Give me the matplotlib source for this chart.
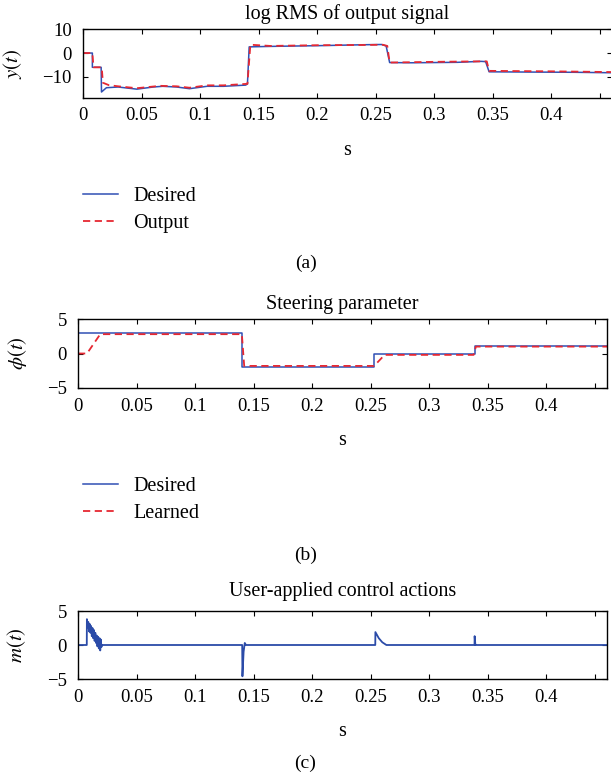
import matplotlib
matplotlib.use('Agg')
import matplotlib.pyplot as plt
from matplotlib.lines import Line2D

plt.rcParams['font.family'] = ['Liberation Serif', 'DejaVu Serif']
plt.rcParams['mathtext.fontset'] = 'stix'
plt.rcParams['axes.unicode_minus'] = True

# ---- panel (a): log RMS of output signal ----
t_des_a = [0, 0.008, 0.008, 0.0155, 0.0158, 0.020, 0.030, 0.046, 0.060, 0.068,
           0.080, 0.091, 0.100, 0.106, 0.120, 0.139, 0.1405, 0.142, 0.160, 0.200,
           0.240, 0.255, 0.259, 0.262, 0.280, 0.320, 0.340, 0.344, 0.347, 0.380,
           0.420, 0.452]
y_des_a = [0, 0, -6, -6, -16.4, -14.6, -14.3, -15.2, -14.3, -14.0,
           -14.3, -15.0, -14.4, -14.0, -14.0, -13.5, -13.0, 2.6, 2.8, 3.1,
           3.5, 3.6, 3.0, -4.0, -4.1, -3.9, -3.5, -3.6, -7.9, -8.0,
           -8.1, -8.3]
t_out_a = [0, 0.008, 0.009, 0.016, 0.017, 0.022, 0.030, 0.046, 0.066, 0.080,
           0.091, 0.106, 0.120, 0.139, 0.1405, 0.143, 0.160, 0.200, 0.240, 0.256,
           0.260, 0.262, 0.300, 0.340, 0.345, 0.347, 0.400, 0.452]
y_out_a = [0, 0, -6, -6, -12.5, -13.5, -14.0, -14.8, -13.8, -14.0,
           -14.6, -13.6, -13.6, -13.0, -13.0, 3.5, 3.0, 3.3, 3.4, 3.5,
           3.0, -4.0, -3.7, -3.5, -3.5, -7.5, -7.7, -8.0]

# ---- panel (b): steering parameter ----
t_des_b = [0, 0.1405, 0.1405, 0.253, 0.253, 0.339, 0.339, 0.452]
y_des_b = [3.0, 3.0, -2.0, -2.0, 0.0, 0.0, 1.1, 1.1]
t_lrn_b = [0, 0.0077, 0.019, 0.140, 0.142, 0.253, 0.262, 0.338, 0.340, 0.452]
y_lrn_b = [0.0, 0.0, 2.8, 2.8, -1.8, -1.8, -0.2, -0.2, 1.0, 1.0]

# ---- panel (c): user-applied control actions ----
t_m = [0, 0.0075, 0.0076, 0.0082, 0.0088, 0.0094, 0.0100, 0.0106, 0.0112, 0.0118,
       0.0124, 0.0130, 0.0136, 0.0142, 0.0148, 0.0154, 0.0160, 0.0166, 0.0172,
       0.0178, 0.0184, 0.0190, 0.0195, 0.0200, 0.0205, 0.1403, 0.1405, 0.1415,
       0.1425, 0.1435, 0.254, 0.2541, 0.257, 0.260, 0.2635, 0.3388, 0.3389,
       0.3395, 0.3396, 0.452]
y_m = [0, 0, 3.8, 2.6, 3.4, 2.0, 3.1, 1.8, 2.8, 1.3,
       2.5, 1.0, 2.2, 0.6, 1.8, 0.3, 1.4, -0.2, 1.2,
       -0.5, 1.0, -0.8, 0.8, -0.3, 0, 0, -4.6, -1.0,
       0.3, 0, 0, 1.9, 1.0, 0.4, 0, 0, 1.3,
       0.1, 0, 0]

x_ticks = [0, 0.05, 0.1, 0.15, 0.2, 0.25, 0.3, 0.35, 0.4, 0.442]
x_ticklabels = ['0', '0.05', '0.1', '0.15', '0.2', '0.25', '0.3', '0.35', '0.4', '']

blue = '#3050B4'
red = '#E62832'
W, H = 611, 778

fig = plt.figure(figsize=(W / 100, H / 100), dpi=100)


def px_axes(left, top, right, bottom):
    return fig.add_axes([left / W, 1 - bottom / H, (right - left) / W, (bottom - top) / H])


def style(ax, title, tpad, ylabel, yticks, yticklabels, ylim, label_x):
    ax.set_xlim(0, 0.452)
    ax.set_ylim(*ylim)
    ax.set_xticks(x_ticks)
    ax.set_xticklabels(x_ticklabels)
    ax.set_yticks(yticks)
    ax.set_yticklabels(yticklabels)
    ax.tick_params(direction='in', top=True, right=True, length=3.6, width=0.8,
                   labelsize=13.5)
    ax.tick_params(axis='x', pad=7)
    ax.tick_params(axis='y', pad=8)
    for sp in ax.spines.values():
        sp.set_linewidth(1.0)
    ax.set_title(title, fontsize=14.5, pad=tpad)
    ax.set_xlabel('s', fontsize=14.5, labelpad=12)
    ax.set_ylabel(ylabel, fontsize=15)
    ax.yaxis.set_label_coords(label_x, 0.5)


ax1 = px_axes(83, 29.3, 612, 97.7)
ax1.plot(t_des_a, y_des_a, color=blue, lw=1.1)
ax1.plot(t_out_a, y_out_a, color=red, lw=1.3, dashes=(4, 2.5))
style(ax1, 'log RMS of output signal', 7.5, r'$y(t)$', [-10, 0, 10],
      ['\u221210', '0', '10'], (-18.8, 10), (24 - 83) / 529)

ax2 = px_axes(78, 319, 607, 388)
ax2.plot(t_des_b, y_des_b, color=blue, lw=1.1)
ax2.plot(t_lrn_b, y_lrn_b, color=red, lw=1.3, dashes=(4, 2.5))
style(ax2, 'Steering parameter', 7, r'$\phi(t)$', [-5, 0, 5],
      ['\u22125', '0', '5'], (-5, 5), (29 - 78) / 529)

ax3 = px_axes(78, 611, 607, 679)
ax3.plot(t_m, y_m, color='#2B4BA8', lw=1.3)
style(ax3, 'User-applied control actions', 10.5, r'$m(t)$', [-5, 0, 5],
      ['\u22125', '0', '5'], (-5, 5), (28 - 78) / 529)

# legends
for ax, labels, top in [(ax1, ['Desired', 'Output'], 187),
                        (ax2, ['Desired', 'Learned'], 477)]:
    handles = [Line2D([], [], color=blue, lw=1.1),
               Line2D([], [], color=red, lw=1.3, dashes=(4, 2.5))]
    ax.legend(handles, labels, loc='upper left', bbox_to_anchor=(83 / W, 1 - top / H),
              bbox_transform=fig.transFigure, frameon=False, borderpad=0,
              borderaxespad=0, handlelength=1.75, handletextpad=0.75,
              labelspacing=0.4, fontsize=14.5)

for txt, ypx in [('(a)', 263), ('(b)', 555), ('(c)', 763)]:
    fig.text(0.5, 1 - ypx / H, txt, ha='center', va='center', fontsize=14)

fig.savefig('out.png', dpi=100, facecolor='white')
plt.close()
